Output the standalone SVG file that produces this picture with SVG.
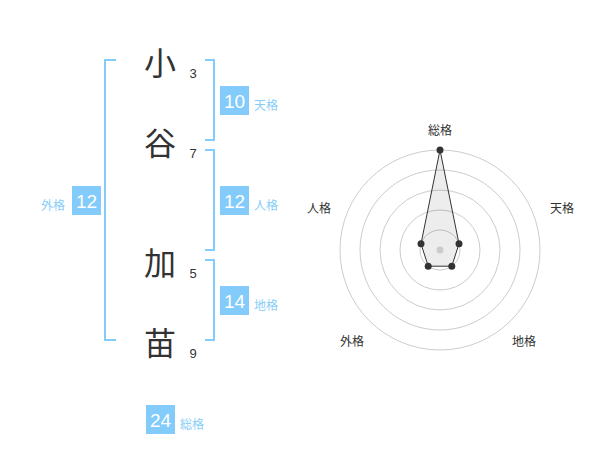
<svg xmlns="http://www.w3.org/2000/svg" width="600" height="470" viewBox="0 0 600 470">
<style>
.ch{font-family:"Noto Sans CJK JP","Noto Sans CJK SC",sans-serif;font-size:32px;fill:#333;text-anchor:middle}
.st{font-family:"Liberation Sans",Arial,sans-serif;font-size:13px;fill:#333;text-anchor:middle}
.br{fill:none;stroke:#82cbfa;stroke-width:2}
.bx{fill:#82cbfa}
.bn{font-family:"Liberation Sans",Arial,sans-serif;font-size:19px;fill:#fff;text-anchor:middle}
.bl{font-family:"Noto Sans CJK JP","Noto Sans CJK SC",sans-serif;font-size:12px;fill:#86cdf9}
.ring{fill:none;stroke:#ccc;stroke-width:1}
.ax{font-family:"Noto Sans CJK JP","Noto Sans CJK SC",sans-serif;font-size:12px;fill:#333;text-anchor:middle}
</style>
<rect width="600" height="470" fill="#fff"/>
<g id="name">
<text class="ch" x="160" y="75">小</text>
<text class="ch" x="160" y="155">谷</text>
<text class="ch" x="160" y="275">加</text>
<text class="ch" x="160" y="355">苗</text>
<text class="st" x="193" y="78">3</text>
<text class="st" x="193" y="158">7</text>
<text class="st" x="193" y="278">5</text>
<text class="st" x="193" y="358">9</text>
</g>
<g id="connectors">
<path class="br" d="M116,60 H105 V340 H116"/>
<path class="br" d="M205,60 H214 V140 H205"/>
<path class="br" d="M205,150 H214 V250 H205"/>
<path class="br" d="M205,260 H214 V340 H205"/>
</g>
<g id="tenkaku">
<rect class="bx" x="220" y="86" width="29" height="29"/>
<text class="bn" x="234.5" y="107.5">10</text>
<text class="bl" x="254" y="109.5">天格</text>
</g>
<g id="jinkaku">
<rect class="bx" x="220" y="186" width="29" height="29"/>
<text class="bn" x="234.5" y="207.5">12</text>
<text class="bl" x="254" y="209.5">人格</text>
</g>
<g id="gaikaku">
<rect class="bx" x="72" y="186" width="29" height="29"/>
<text class="bn" x="86.5" y="207.5">12</text>
<text class="bl" x="65" y="209.5" text-anchor="end">外格</text>
</g>
<g id="chikaku">
<rect class="bx" x="220" y="286" width="29" height="29"/>
<text class="bn" x="234.5" y="307.5">14</text>
<text class="bl" x="254" y="309.5">地格</text>
</g>
<g id="soukaku">
<rect class="bx" x="146" y="405" width="29" height="29"/>
<text class="bn" x="160.5" y="426.5">24</text>
<text class="bl" x="180" y="428.5">総格</text>
</g>
<g id="radar">
<circle class="ring" cx="440" cy="250" r="20"/>
<circle class="ring" cx="440" cy="250" r="40"/>
<circle class="ring" cx="440" cy="250" r="60"/>
<circle class="ring" cx="440" cy="250" r="80"/>
<circle class="ring" cx="440" cy="250" r="100"/>
<polygon points="440,150 459,243.8 451.8,266.2 428.2,266.2 421,243.8" fill="#000" fill-opacity="0.07" stroke="#333" stroke-width="1"/>
<circle cx="440" cy="250" r="3.5" fill="#ccc"/>
<g fill="#333">
<circle cx="440" cy="150" r="3.5"/>
<circle cx="459" cy="243.8" r="3.5"/>
<circle cx="451.8" cy="266.2" r="3.5"/>
<circle cx="428.2" cy="266.2" r="3.5"/>
<circle cx="421" cy="243.8" r="3.5"/>
</g>
<text class="ax" x="440" y="135">総格</text>
<text class="ax" x="562" y="213">天格</text>
<text class="ax" x="524" y="346">地格</text>
<text class="ax" x="352" y="346">外格</text>
<text class="ax" x="319" y="213">人格</text>
</g>
</svg>
